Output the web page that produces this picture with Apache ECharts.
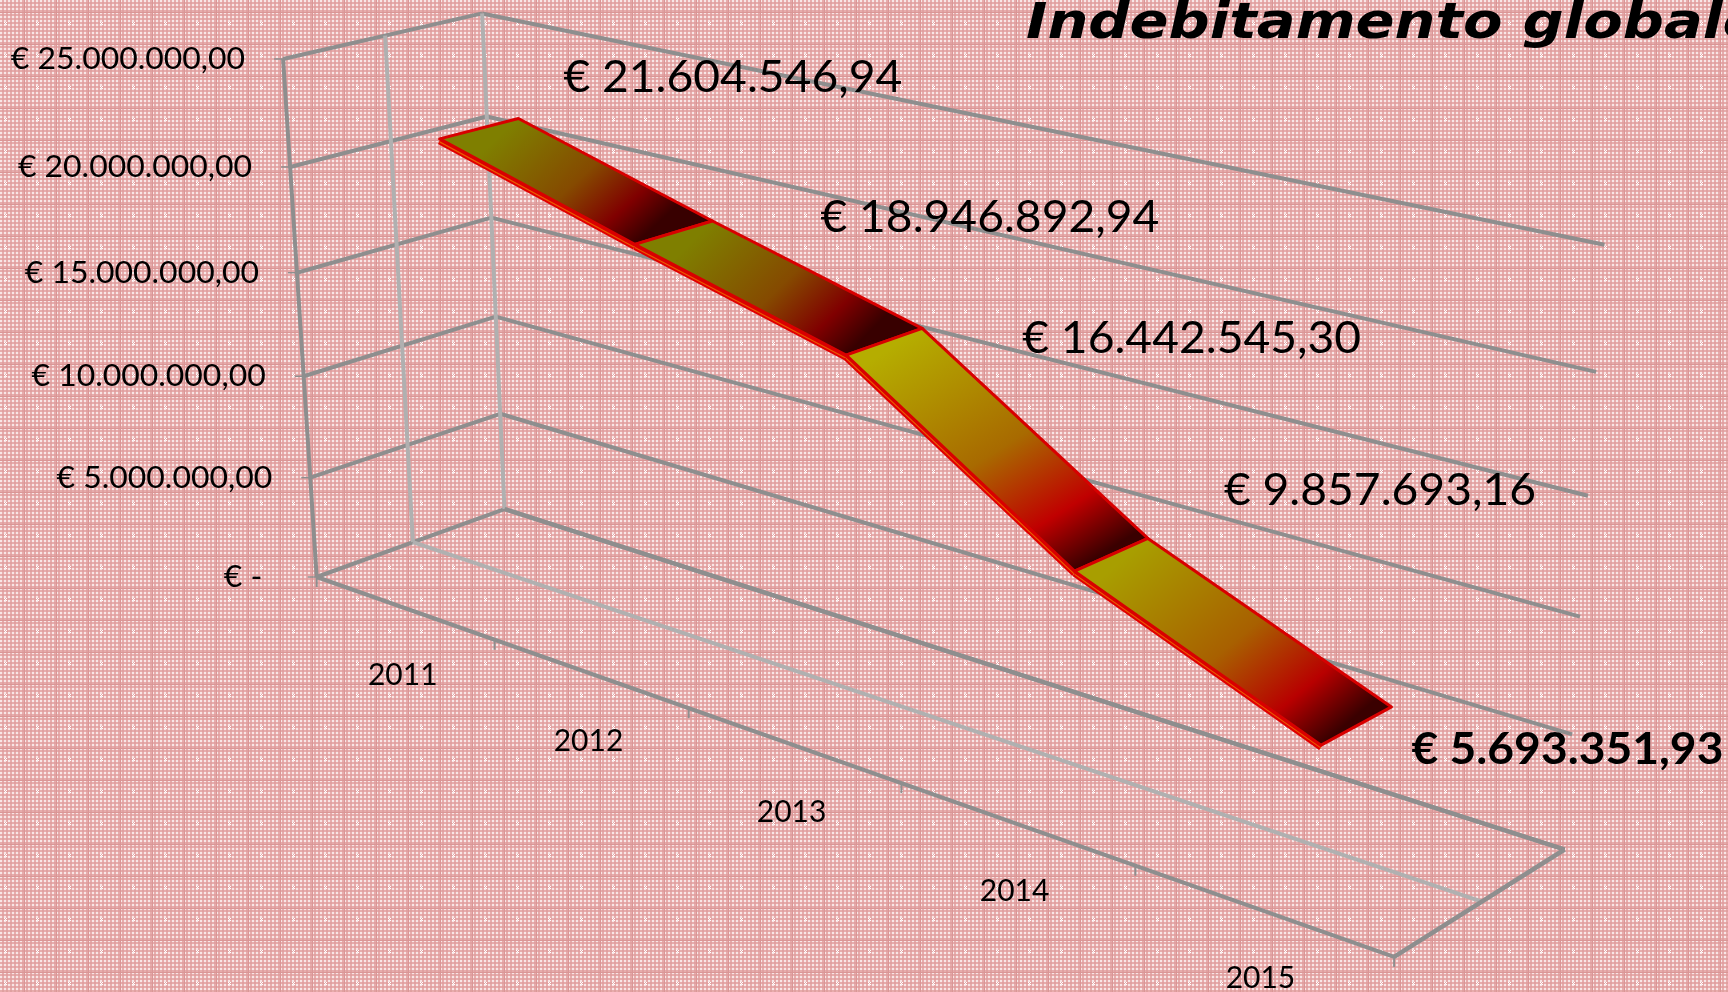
<!DOCTYPE html>
<html>
<head>
<meta charset="utf-8">
<style>html,body{margin:0;padding:0;background:#e4a8aa}#c{width:1728px;height:992px}</style>
<script src="https://cdn.jsdelivr.net/npm/echarts@6/dist/echarts.min.js"></script>
</head>
<body>
<div id="c"></div>
<script>
// ---- data
var titleText = 'Indebitamento globale';
var years = ['2011', '2012', '2013', '2014', '2015'];
var debt = [21604546.94, 18946892.94, 16442545.30, 9857693.16, 5693351.93];
var debtLabels = ['€ 21.604.546,94', '€ 18.946.892,94', '€ 16.442.545,30', '€ 9.857.693,16', '€ 5.693.351,93'];
var valueTicks = [0, 5000000, 10000000, 15000000, 20000000, 25000000];
var valueTickLabels = ['€ -\u00a0\u00a0', '€ 5.000.000,00', '€ 10.000.000,00', '€ 15.000.000,00', '€ 20.000.000,00', '€ 25.000.000,00'];

// ---- 3D view: screen position of known box corners [xFraction, depth, valueFraction, px, py]
var viewAnchors = [
  [0,0,1,283.5,59],[0,0,.8,290,167],[0,0,.6,297,273],[0,0,.4,303.6,377],[0,0,.2,310,477],[0,0,0,316,577],
  [0,1,1,482,14],[0,1,.8,486.6,116.7],[0,1,.6,491,217],[0,1,.4,496,317],[0,1,.2,501,413],[0,1,0,505,509],
  [1,1,1,1604,243],[1,1,.8,1596,371],[1,1,.6,1588,497],[1,1,.4,1581,618],[1,1,.2,1572,735],[1,1,0,1565,850],
  [1,0,0,1395,957],[.2,0,0,495,640],[.4,0,0,689,708],[.6,0,0,901,783],[.8,0,0,1137,866],
  [0,.5,0,412,542],[1,.5,0,1479,900]
];
function solve(A, b) {
  var n = b.length, i, j, k;
  for (i = 0; i < n; i++) {
    var p = i;
    for (j = i + 1; j < n; j++) if (Math.abs(A[j][i]) > Math.abs(A[p][i])) p = j;
    var t = A[i]; A[i] = A[p]; A[p] = t; t = b[i]; b[i] = b[p]; b[p] = t;
    for (j = i + 1; j < n; j++) {
      var f = A[j][i] / A[i][i];
      for (k = i; k < n; k++) A[j][k] -= f * A[i][k];
      b[j] -= f * b[i];
    }
  }
  var x = new Array(n);
  for (i = n - 1; i >= 0; i--) {
    var s = b[i];
    for (k = i + 1; k < n; k++) s -= A[i][k] * x[k];
    x[i] = s / A[i][i];
  }
  return x;
}
var cam = (function () {
  var N = 11, A = [], b = [], i, j, k;
  for (i = 0; i < N; i++) { A.push(new Array(N).fill(0)); b.push(0); }
  viewAnchors.forEach(function (a) {
    var X = a[0], Y = a[1], Z = a[2], u = a[3] / 1000, v = a[4] / 1000;
    var rows = [
      [[X, Y, Z, 1, 0, 0, 0, 0, -u * X, -u * Y, -u * Z], u],
      [[0, 0, 0, 0, X, Y, Z, 1, -v * X, -v * Y, -v * Z], v]
    ];
    rows.forEach(function (r) {
      for (j = 0; j < N; j++) {
        for (k = 0; k < N; k++) A[j][k] += r[0][j] * r[0][k];
        b[j] += r[0][j] * r[1];
      }
    });
  });
  return solve(A, b);
})();
function project(x, d, v) {
  var w = cam[8] * x + cam[9] * d + cam[10] * v + 1;
  return [
    1000 * (cam[0] * x + cam[1] * d + cam[2] * v + cam[3]) / w,
    1000 * (cam[4] * x + cam[5] * d + cam[6] * v + cam[7]) / w
  ];
}
// library scale -> box fractions -> screen
function place(params, api, cat, value, depth, edge) {
  var cs = params.coordSys;
  var c = api.coord([cat, value]);
  var half = api.size([1, 0])[0] / 2;
  var px = c[0] + (edge || 0) * half;
  return project((px - cs.x) / cs.width, depth, 1 - (c[1] - cs.y) / cs.height);
}

// ---- style
var FONT = 'Lato';
var GRIDC = '#8e8e8e', GRIDL = '#b0b0b0';
var ribbonFront = 0.3, ribbonBack = 0.7;
var labelOffsets = [[45, -41], [108, -3], [100, 11], [76, -48], [20, 43]];
var segmentStops = [
  ['#7f7f00', '#854a00', '#800000', '#380000'],
  ['#7f7f00', '#854a00', '#800000', '#380000'],
  ['#b5ad00', '#a86a00', '#c00000', '#3a0000'],
  ['#a89e00', '#a86000', '#b80000', '#3a0000']
];
function line(a, b, color, w) {
  return { type: 'line', silent: true, shape: { x1: a[0], y1: a[1], x2: b[0], y2: b[1] }, style: { stroke: color, lineWidth: w } };
}
function tile() {
  var cv = document.createElement('canvas'); cv.width = 32; cv.height = 32;
  var g = cv.getContext('2d');
  for (var y = 0; y < 32; y++) for (var x = 0; x < 32; x++) {
    var lx = x % 4 < 2, ly = y % 4 < 2, c;
    if (lx && ly) c = '#f8e6e6';
    else if (lx || ly) c = '#e7acac';
    else c = '#e0a0a0';
    if (x === 24 || y === 12) c = '#da9696';
    g.fillStyle = c; g.fillRect(x, y, 1, 1);
  }
  g.fillStyle = '#ffffff';
  [[5, 23], [4, 22], [6, 22], [4, 24], [6, 24]].forEach(function (p) { g.fillRect(p[0], p[1], 1, 1); });
  return cv;
}

var chart = echarts.init(document.getElementById('c'), null, { width: 1728, height: 992 });

function textEl(pos, text, size, align, scaleX, weight) {
  return {
    type: 'text', x: pos[0], y: pos[1], scaleX: scaleX || 1, silent: true,
    style: { text: text, fill: '#000', font: (weight || 'normal') + ' ' + size + 'px ' + FONT, align: align, verticalAlign: 'middle' }
  };
}

chart.setOption({
  animation: false,
  backgroundColor: { image: tile(), repeat: 'repeat' },
  graphic: [{
    type: 'text', x: 1026, y: 50, scaleX: 1.15, silent: true, z: 5,
    style: { text: titleText, fill: '#000', font: 'italic bold 50px "DejaVu Sans"', align: 'left', verticalAlign: 'bottom' }
  }],
  grid: { left: 0, right: 0, top: 0, bottom: 0 },
  xAxis: { type: 'category', data: years, show: false, boundaryGap: true },
  yAxis: { type: 'value', min: 0, max: 25000000, interval: 5000000, show: false },
  series: [
    { // value levels: side wall, back wall, tick and tick label
      type: 'custom', z: 1, data: valueTicks.map(function (v, i) { return [0, v, i]; }),
      renderItem: function (params, api) {
        var v = api.value(1), last = years.length - 1;
        var a = place(params, api, 0, v, 0, -1), b = place(params, api, 0, v, 1, -1), c = place(params, api, last, v, 1, 1);
        return { type: 'group', children: [
          line(a, b, GRIDC, 4), line(b, c, GRIDC, 4),
          line([a[0] - 9, a[1]], a, GRIDC, 1.5),
          textEl([a[0] - 38, a[1]], valueTickLabels[api.value(2)], 31, 'right', 1.03)
        ] };
      }
    },
    { // box frame: verticals of the side wall and floor edges
      type: 'custom', z: 1, data: [[0, 0]],
      renderItem: function (params, api) {
        var top = valueTicks[valueTicks.length - 1], last = years.length - 1, kids = [];
        [[0, GRIDC], [.5, GRIDL], [1, GRIDL]].forEach(function (s) {
          kids.push(line(place(params, api, 0, 0, s[0], -1), place(params, api, 0, top, s[0], -1), s[1], 4));
          kids.push(line(place(params, api, 0, 0, s[0], -1), place(params, api, last, 0, s[0], 1), s[0] === .5 ? GRIDL : GRIDC, 4));
        });
        kids.push(line(place(params, api, last, 0, 0, 1), place(params, api, last, 0, 1, 1), GRIDC, 4.5));
        var start = place(params, api, 0, 0, 0, -1);
        kids.push(line(start, [start[0], start[1] + 10], GRIDC, 2));
        return { type: 'group', children: kids };
      }
    },
    { // category ticks and labels
      type: 'custom', z: 1, data: years.map(function (y, i) { return [i, 0]; }),
      renderItem: function (params, api) {
        var i = api.value(0);
        var end = place(params, api, i, 0, 0, 1);
        var mid = place(params, api, i, 0, 0, 0);
        return { type: 'group', children: [
          line(end, [end[0], end[1] + 10], GRIDC, 2),
          textEl([mid[0] - 1, mid[1] + 68], years[i], 30, 'center')
        ] };
      }
    },
    { // debt ribbon
      type: 'custom', z: 3,
      data: debt.slice(0, -1).map(function (v, i) { return [i, v, debt[i + 1]]; }),
      renderItem: function (params, api) {
        var i = api.value(0), v0 = api.value(1), v1 = api.value(2);
        var fs = place(params, api, i, v0, ribbonFront), bs = place(params, api, i, v0, ribbonBack);
        var fe = place(params, api, i + 1, v1, ribbonFront), be = place(params, api, i + 1, v1, ribbonBack);
        var st = segmentStops[i];
        return { type: 'group', children: [
          line([fs[0], fs[1] + 2], [fe[0], fe[1] + 2], '#e00000', 7),
          line([fs[0], fs[1] + 3], [fe[0], fe[1] + 3], '#e85a00', 1.2),
          {
            type: 'polygon', silent: true,
            shape: { points: [fs, bs, be, fe] },
            style: {
              stroke: '#d80000', lineWidth: 3, lineJoin: 'round',
              fill: { type: 'linear', global: true, x: bs[0], y: bs[1], x2: fe[0], y2: fe[1],
                colorStops: [{ offset: 0, color: st[0] }, { offset: .5, color: st[1] }, { offset: .8, color: st[2] }, { offset: 1, color: st[3] }] }
            }
          }
        ] };
      }
    },
    { // data labels
      type: 'custom', z: 4, data: debt.map(function (v, i) { return [i, v]; }),
      renderItem: function (params, api) {
        var i = api.value(0), p = place(params, api, i, api.value(1), ribbonBack), o = labelOffsets[i];
        return textEl([p[0] + o[0], p[1] + o[1]], debtLabels[i], 44, 'left', 1.05, i === debt.length - 1 ? 'bold' : 'normal');
      }
    }
  ]
});
</script>
</body>
</html>
